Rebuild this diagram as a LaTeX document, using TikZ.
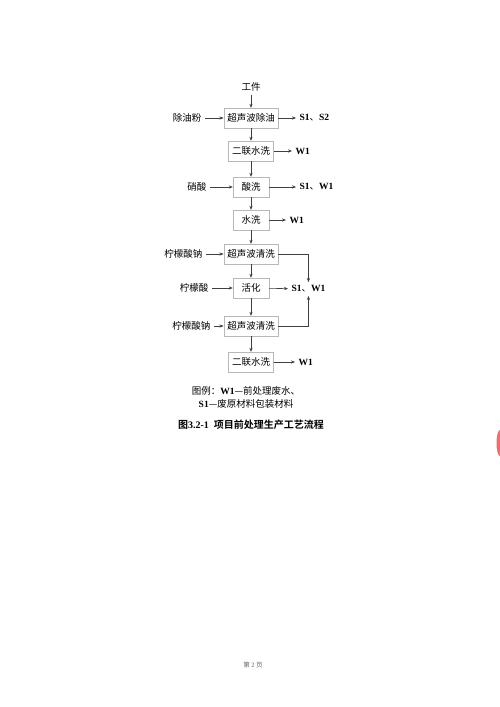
\documentclass[tikz,border=0pt]{standalone}
\usepackage{fontspec}
\setmainfont{Liberation Serif}
\newfontfamily\cjk{Noto Sans CJK SC}[BoldFont={Noto Sans CJK SC Bold}]
\usetikzlibrary{arrows.meta}
\newcommand{\dun}{{\mdseries\cjk 、}}

\begin{document}
\begin{tikzpicture}[
    x=1pt,
    y=-1pt,
    >={Stealth[length=4pt,width=3.2pt]},
    font=\fontsize{9.5}{11}\selectfont,
    caja/.style={draw=black!28,fill=white,minimum width=36pt,minimum height=20pt,
        inner xsep=3.5pt,font=\fontsize{9.5}{11}\selectfont\cjk},
    flujo/.style={black!75,line width=0.6pt,->},
    entrada/.style={anchor=east,font=\fontsize{9.5}{11}\selectfont\cjk},
    salida/.style={anchor=west,font=\fontsize{9.5}{11}\selectfont\bfseries}
]
    \useasboundingbox[fill=white] (0,0) rectangle (500,707);

    % Cadena principal
    \node[font=\fontsize{9.5}{11}\selectfont\cjk] (gj) at (251,87) {工件};
    \node[caja] (b1) at (251,118) {超声波除油};
    \node[caja] (b2) at (251,151) {二联水洗};
    \node[caja] (b3) at (251,187) {酸洗};
    \node[caja] (b4) at (251,220) {水洗};
    \node[caja] (b5) at (251,254) {超声波清洗};
    \node[caja] (b6) at (251,288) {活化};
    \node[caja] (b7) at (251,326) {超声波清洗};
    \node[caja] (b8) at (251,362) {二联水洗};
    \foreach \a/\b in {gj/b1,b1/b2,b2/b3,b3/b4,b4/b5,b5/b6,b6/b7,b7/b8}{
        \draw[flujo] (\a) -- (\b);
    }

    % Entradas
    \node[entrada] (e1) at (205,118) {除油粉};
    \node[entrada] (e3) at (210,187) {硝酸};
    \node[entrada] (e5) at (206,254) {柠檬酸钠};
    \node[entrada] (e6) at (212,288) {柠檬酸};
    \node[entrada] (e7) at (214,326) {柠檬酸钠};
    \foreach \a/\b in {e1/b1,e3/b3,e5/b5,e6/b6,e7/b7}{
        \draw[flujo] (\a) -- (\b);
    }

    % Salidas
    \node[salida] (s1) at (296,118) {S1\dun S2};
    \node[salida] (s2) at (292,151) {W1};
    \node[salida] (s3) at (296,187) {S1\dun W1};
    \node[salida] (s4) at (286,220) {W1};
    \node[salida] (s6) at (288,289) {S1\dun W1};
    \node[salida] (s8) at (295,362) {W1};
    \foreach \a/\b in {b1/s1,b2/s2,b3/s3,b4/s4,b6/s6,b8/s8}{
        \draw[flujo] (\a) -- (\b);
    }
    \draw[flujo] (b5.east) -| (s6.north);
    \draw[flujo] (b7.east) -| (s6.south);

    % Leyenda y titulo
    \node[font=\fontsize{9.5}{13}\selectfont\cjk,align=center] (ley) at (246,397)
        {图例：{\rmfamily\bfseries W1}—前处理废水、\\
         {\rmfamily\bfseries S1}—废原材料包装材料};
    \node[font=\fontsize{10}{12}\selectfont\bfseries\cjk] (tit) at (251,425)
        {图{\rmfamily\bfseries 3.2-1}\enspace 项目前处理生产工艺流程};
    \node[font=\fontsize{6.5}{8}\selectfont\cjk,text=black!60] (pag) at (253,665)
        {第 {\rmfamily 2} 页};

    \fill[red!60] (500,443) ellipse [x radius=3.5, y radius=13];
\end{tikzpicture}
\end{document}
